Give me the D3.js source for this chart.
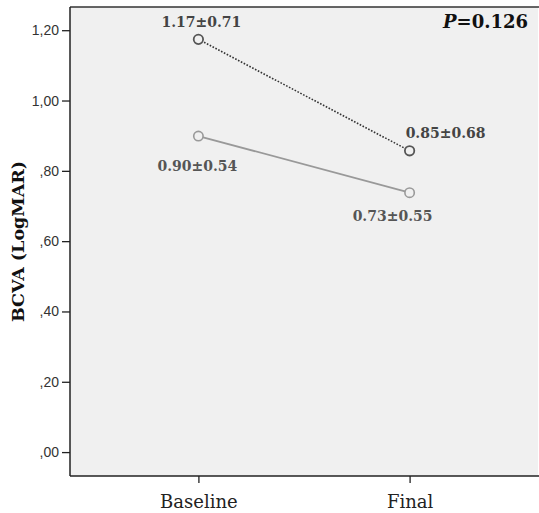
<!doctype html>
<html lang="en">
<head>
<meta charset="utf-8">
<title>BCVA</title>
<script src="https://d3js.org/d3.v7.min.js"></script>
<style>
  body { margin: 0; background: #fff; }
  .ytick text { font-family: "Liberation Sans", Arial, sans-serif; font-size: 14px; fill: #333; }
  .xtick text { font-family: "DejaVu Serif", serif; font-size: 18px; fill: #222; }
  .lbl { font-family: "DejaVu Serif", serif; font-weight: bold; font-size: 14px; }
</style>
</head>
<body>
<script>
  const categories = ['Baseline', 'Final'];
  const upperValues = [1.174, 0.857];
  const upperLabels = ['1.17±0.71', '0.85±0.68'];
  const lowerValues = [0.899, 0.738];
  const lowerLabels = ['0.90±0.54', '0.73±0.55'];
  const yTicks = [0, 0.2, 0.4, 0.6, 0.8, 1.0, 1.2];
  const yTickLabels = [',00', ',20', ',40', ',60', ',80', '1,00', '1,20'];

  const width = 539, height = 513;
  const plotL = 70, plotR = 538, plotT = 7, plotB = 476;

  const svg = d3.select('body').append('svg')
      .attr('width', width)
      .attr('height', height);

  const x = d3.scalePoint()
      .domain(categories)
      .range([plotL, plotR])
      .padding(0.608);

  const y = d3.scaleLinear()
      .domain([-0.068, 1.266])
      .range([plotB, plotT]);

  // plot background
  svg.append('rect')
      .attr('x', plotL).attr('y', plotT)
      .attr('width', plotR - plotL).attr('height', plotB - plotT)
      .attr('fill', '#f0f0f0');

  // frame
  svg.append('line')
      .attr('x1', plotL).attr('x2', plotR + 1).attr('y1', plotT).attr('y2', plotT)
      .attr('stroke', '#333').attr('stroke-width', 1.5);

  const yAxis = svg.append('g')
      .attr('transform', `translate(${plotL},0)`)
      .call(d3.axisLeft(y).tickValues(yTicks).tickSize(8).tickPadding(3)
          .tickFormat((d, i) => yTickLabels[i]));
  yAxis.selectAll('.tick').attr('class', 'tick ytick');
  yAxis.select('.domain').attr('d', `M0,${plotT}V${plotB}`).attr('stroke', '#222').attr('stroke-width', 1.5);
  yAxis.selectAll('.tick line').attr('stroke', '#222').attr('stroke-width', 1.3);

  const xAxis = svg.append('g')
      .attr('transform', `translate(0,${plotB})`)
      .call(d3.axisBottom(x).tickSize(7).tickPadding(8));
  xAxis.selectAll('.tick').attr('class', 'tick xtick');
  xAxis.select('.domain').attr('d', `M${plotL},0H${plotR + 1}`).attr('stroke', '#222').attr('stroke-width', 1.5);
  xAxis.selectAll('.tick line').attr('stroke', '#222').attr('stroke-width', 1.3);
  xAxis.selectAll('text').attr('dy', '0.95em');

  // y title
  svg.append('text')
      .attr('transform', `translate(24,${(plotT + plotB) / 2}) rotate(-90)`)
      .attr('text-anchor', 'middle')
      .style('font-family', '"DejaVu Serif", serif')
      .style('font-weight', 'bold')
      .style('font-size', '17.5px')
      .attr('fill', '#111')
      .text('BCVA (LogMAR)');

  const line = d3.line()
      .x((d, i) => x(categories[i]))
      .y(d => y(d));

  // lower series (solid grey)
  svg.append('path')
      .datum(lowerValues)
      .attr('d', line)
      .attr('fill', 'none')
      .attr('stroke', '#999')
      .attr('stroke-width', 1.8);

  // upper series (dotted dark)
  svg.append('path')
      .datum(upperValues)
      .attr('d', line)
      .attr('fill', 'none')
      .attr('stroke', '#333')
      .attr('stroke-width', 1.6)
      .attr('stroke-dasharray', '1.6,1.6');

  svg.selectAll('circle.low')
      .data(lowerValues).join('circle')
      .attr('class', 'low')
      .attr('cx', (d, i) => x(categories[i]))
      .attr('cy', d => y(d))
      .attr('r', 4.7)
      .attr('fill', '#f0f0f0')
      .attr('stroke', '#999')
      .attr('stroke-width', 1.6);

  svg.selectAll('circle.up')
      .data(upperValues).join('circle')
      .attr('class', 'up')
      .attr('cx', (d, i) => x(categories[i]))
      .attr('cy', d => y(d))
      .attr('r', 4.7)
      .attr('fill', '#f0f0f0')
      .attr('stroke', '#555')
      .attr('stroke-width', 1.8);

  // value labels
  const upOff = [[3, -12], [36, -13]];
  const lowOff = [[-1, 35], [-17, 28.5]];
  svg.selectAll('text.up-lbl')
      .data(upperValues).join('text')
      .attr('class', 'lbl up-lbl')
      .attr('text-anchor', 'middle')
      .attr('x', (d, i) => x(categories[i]) + upOff[i][0])
      .attr('y', d => y(d))
      .attr('dy', (d, i) => upOff[i][1])
      .attr('fill', '#444')
      .text((d, i) => upperLabels[i]);

  svg.selectAll('text.low-lbl')
      .data(lowerValues).join('text')
      .attr('class', 'lbl low-lbl')
      .attr('text-anchor', 'middle')
      .attr('x', (d, i) => x(categories[i]) + lowOff[i][0])
      .attr('y', d => y(d))
      .attr('dy', (d, i) => lowOff[i][1])
      .attr('fill', '#555')
      .text((d, i) => lowerLabels[i]);

  // p value
  const p = svg.append('text')
      .attr('x', 528).attr('y', 28)
      .attr('text-anchor', 'end')
      .style('font-family', '"DejaVu Serif", serif')
      .style('font-weight', 'bold')
      .style('font-size', '18px')
      .attr('fill', '#111');
  p.append('tspan').style('font-style', 'italic').text('P');
  p.append('tspan').text('=0.126');
</script>
</body>
</html>
